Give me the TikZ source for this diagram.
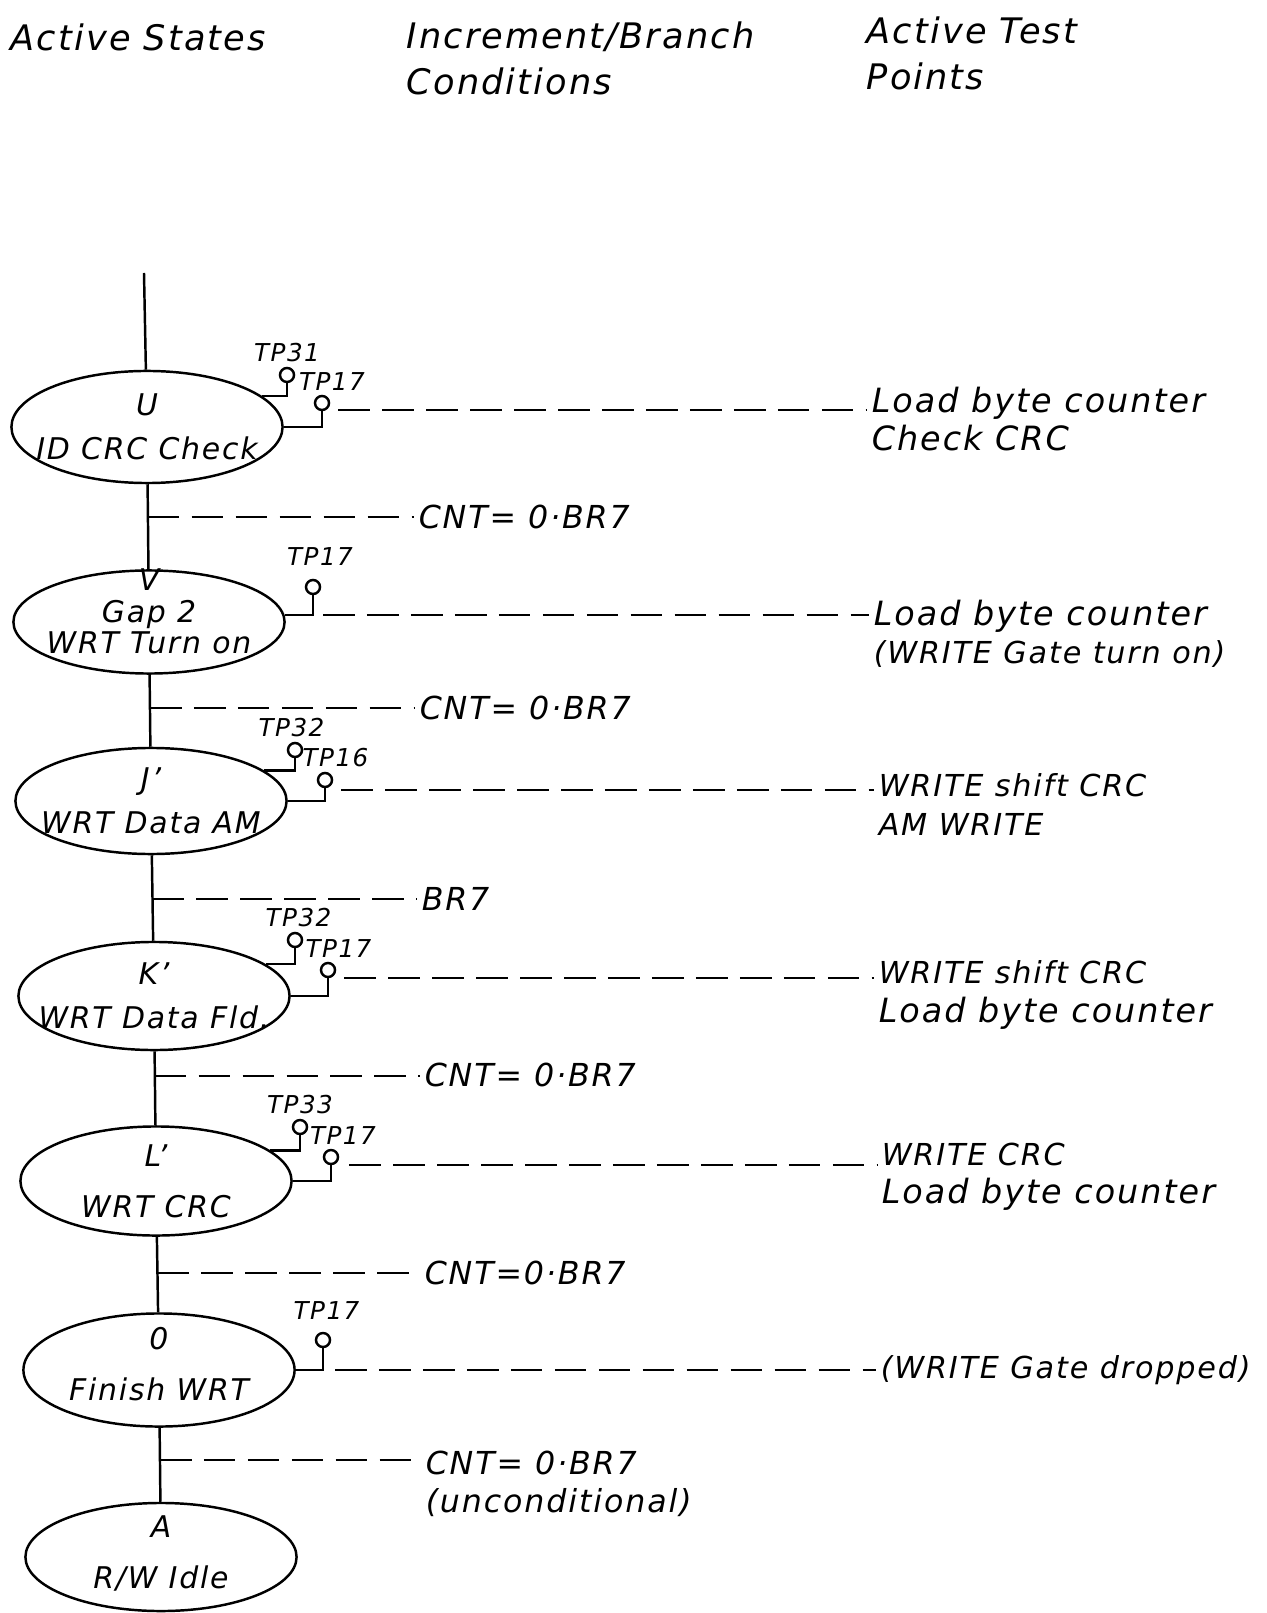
\documentclass[tikz,border=0pt]{standalone}
\usepackage{fontspec}
\setmainfont{DejaVu Sans}[LetterSpace=6]
\usetikzlibrary{positioning,shapes.geometric,calc}
\newcommand\capline[1]{{\fontsize{8.6}{11}\selectfont #1}}

\begin{document}
\begin{tikzpicture}[
    x=0.01cm, y=-0.01cm, line width=0.7pt,
    state/.style={ellipse, draw, minimum width=2.71cm, minimum height=1.08cm, inner sep=0pt},
    stxt/.style={align=center, inner sep=0pt, font=\fontsize{8.5}{12.5}\selectfont\itshape},
    tp/.style={circle, draw, fill=white, minimum size=0.14cm, inner sep=0pt},
    tplab/.style={inner sep=1pt, font=\fontsize{7}{8}\selectfont\itshape},
    cond/.style={anchor=west, align=left, inner sep=1pt, font=\fontsize{9}{11}\selectfont\itshape},
    act/.style={anchor=north west, align=left, inner sep=1pt, font=\fontsize{9.5}{11}\selectfont\itshape},
    head/.style={anchor=north west, align=left, inner sep=1pt, font=\fontsize{10}{13}\selectfont\itshape},
    dashline/.style={line width=0.6pt, dash pattern=on 9pt off 3.5pt}
  ]
  \useasboundingbox (0,0) rectangle (1266,1613);

  % column headings
  \node[head] (hstate) at (6,19)   {Active States};
  \node[head] (hcond)  at (402,17) {Increment/Branch\\Conditions};
  \node[head] (htp)    at (862,12) {Active Test\\Points};

  % states
  \coordinate (top) at (144,273);
  \node[state, minimum height=1.12cm] (U) at (147,427)  {};
  \node[state, minimum height=1.03cm] (V) at (149,622)  {};
  \node[state, minimum height=1.06cm] (J) at (151,801)  {};
  \node[state]                        (K) at (154,996)  {};
  \node[state, minimum height=1.09cm] (L) at (156,1181) {};
  \node[state, minimum height=1.13cm] (O) at (159,1370) {};
  \node[state]                        (A) at (161,1557) {};

  \node[stxt] (Ut) at (U) {U\\ID CRC Check};
  \node[stxt, yshift=3pt] (Vt) at (V) {V\\[-3.5pt]Gap 2\\[-3.5pt]WRT Turn on};
  \node[stxt] (Jt) at (J) {J’\\WRT Data AM};
  \node[stxt] (Kt) at (K) {K’\\WRT Data Fld.};
  \node[stxt] (Lt) at (L) {L’\\[2pt]WRT CRC};
  \node[stxt, yshift=1.7pt] (Ot) at (O) {0\\[2pt]Finish WRT};
  \node[stxt, yshift=1pt] (At) at (A) {A\\[2pt]R/W Idle};

  \draw (top) -- (U) -- (V) -- (J) -- (K) -- (L) -- (O) -- (A);

  % branch conditions
  \coordinate (b1) at ($(U.south)!0.39!(V.north)$);
  \coordinate (b2) at ($(V.south)!0.46!(J.north)$);
  \coordinate (b3) at ($(J.south)!0.51!(K.north)$);
  \coordinate (b4) at ($(K.south)!0.33!(L.north)$);
  \coordinate (b5) at ($(L.south)!0.48!(O.north)$);
  \coordinate (b6) at ($(O.south)!0.44!(A.north)$);
  \node[cond] (c1) at (414,517)  {CNT= 0·BR7};
  \node[cond] (c2) at (415,708)  {CNT= 0·BR7};
  \node[cond] (c3) at (417,899)  {BR7};
  \node[cond] (c4) at (420,1075) {CNT= 0·BR7};
  \node[cond] (c5) at (420,1273) {CNT=0·BR7};
  \node[cond, anchor=north west] (c6) at (421,1446) {CNT= 0·BR7\\(unconditional)};
  \foreach \i in {1,...,6}
    \draw[dashline] (b\i) -- (b\i -| c\i.west);

  % test points
  \node[tp] (u31) at (287,375)  {};
  \node[tp] (u17) at (322,403)  {};
  \node[tp] (v17) at (313,587)  {};
  \node[tp] (j32) at (295,750)  {};
  \node[tp] (j16) at (325,780)  {};
  \node[tp] (k32) at (295,940)  {};
  \node[tp] (k17) at (328,970)  {};
  \node[tp] (l33) at (300,1127) {};
  \node[tp] (l17) at (331,1157) {};
  \node[tp] (o17) at (323,1340) {};

  \node[tplab, above=0pt of u31]                (u31l) {TP31};
  \node[tplab, above=0pt of u17, xshift=2.8pt]  (u17l) {TP17};
  \node[tplab, above=0pt of v17, xshift=2pt, yshift=2.5pt] (v17l) {TP17};
  \node[tplab, above=0pt of j32, xshift=-1pt]   (j32l) {TP32};
  \node[tplab, above=0pt of j16, xshift=3pt]    (j16l) {TP16};
  \node[tplab, above=0pt of k32, xshift=1pt]    (k32l) {TP32};
  \node[tplab, above=0pt of k17, xshift=3pt]    (k17l) {TP17};
  \node[tplab, above=0pt of l33]                (l33l) {TP33};
  \node[tplab, above=0pt of l17, xshift=3.4pt]  (l17l) {TP17};
  \node[tplab, above=0pt of o17, xshift=1pt, yshift=2pt] (o17l) {TP17};

  \draw (u31.south) |- (U.15);
  \draw (u17.south) |- (U.east);
  \draw (v17.south) |- (V.3);
  \draw (j32.south) |- (J.15);
  \draw (j16.south) |- (J.east);
  \draw (k32.south) |- (K.16);
  \draw (k17.south) |- (K.east);
  \draw (l33.south) |- (L.15);
  \draw (l17.south) |- (L.east);
  \draw (o17.south) |- (O.east);

  % active test points text
  \node[act] (uact) at (867,382)  {Load byte counter\\Check CRC};
  \node[act] (vact) at (869,595)  {Load byte counter\\\capline{(WRITE Gate turn on)}};
  \node[act] (jact) at (874,769)  {\capline{WRITE shift CRC}\\\capline{AM WRITE}};
  \node[act] (kact) at (874,956)  {\capline{WRITE shift CRC}\\Load byte counter};
  \node[act] (lact) at (877,1138) {\capline{WRITE CRC}\\Load byte counter};
  \node[act] (oact) at (876,1351) {\capline{(WRITE Gate dropped)}};

  \coordinate (ud) at ($(u17.east)+(8,7)$);
  \coordinate (vd) at ($(v17.south |- V.3)+(10,0)$);
  \coordinate (jd) at ($(j16.east)+(8,10)$);
  \coordinate (kd) at ($(k17.east)+(8,8)$);
  \coordinate (ld) at ($(l17.east)+(10,8)$);
  \coordinate (od) at ($(o17.south |- O.east)+(12,0)$);
  \foreach \s in {u,v,j,k,l,o}
    \draw[dashline] (\s d) -- (\s d -| \s act.west);
\end{tikzpicture}
\end{document}
